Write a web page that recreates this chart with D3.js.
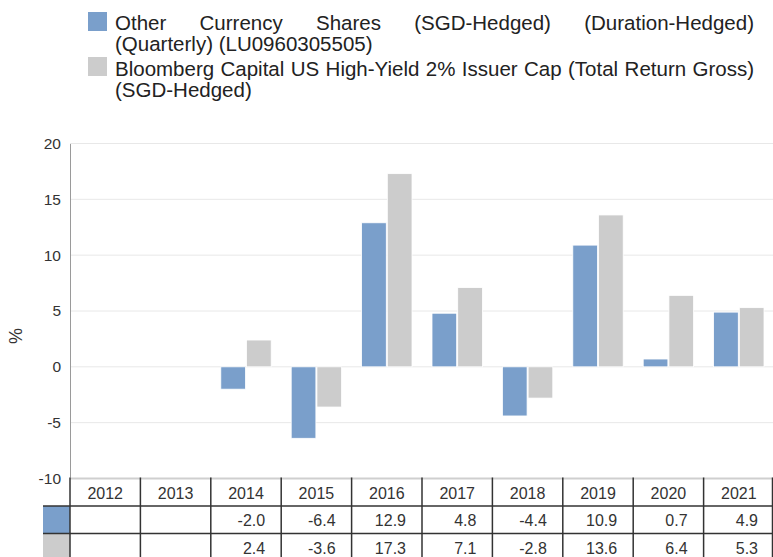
<!DOCTYPE html>
<html><head><meta charset="utf-8">
<script src="https://cdn.jsdelivr.net/npm/d3@7"></script>
<style>body{margin:0;background:#fff;}svg{display:block;font-family:"Liberation Sans",Arial,sans-serif;}</style>
</head><body><svg id="c" width="773" height="557"></svg>
<script>
const years = ["2012","2013","2014","2015","2016","2017","2018","2019","2020","2021"];
const fundValues = [null,null,-2.0,-6.4,12.9,4.8,-4.4,10.9,0.7,4.9];
const indexValues = [null,null,2.4,-3.6,17.3,7.1,-2.8,13.6,6.4,5.3];
const legendLines = [
  ["Other Currency Shares (SGD-Hedged) (Duration-Hedged)", "(Quarterly) (LU0960305505)"],
  ["Bloomberg Capital US High-Yield 2% Issuer Cap (Total Return Gross)", "(SGD-Hedged)"]
];
const yTicks = [-10,-5,0,5,10,15,20];
const colors = ["#7a9fcb","#cccccc"];

(function(){
const svg = d3.select("#c");
const pLeft = 70, pRight = 774, pTop = 143.5, pBottom = 478.5;
const x = d3.scaleBand().domain(years).range([pLeft,pRight]);
const bw = x.bandwidth();
const x1 = d3.scaleBand().domain([0,1]).range([10,bw-10]).paddingInner(0.04);
const y = d3.scaleLinear().domain([-10,20]).range([pBottom,pTop]);

svg.append("g").selectAll("line").data(yTicks).join("line")
  .attr("x1",pLeft).attr("x2",pRight).attr("y1",d=>y(d)).attr("y2",d=>y(d))
  .attr("stroke","#e8e8e8").attr("stroke-width",1);

const yAxis = d3.axisLeft(y).tickValues(yTicks).tickSize(0).tickPadding(9).tickFormat(d=>String(d));
const ga = svg.append("g").attr("transform",`translate(${pLeft},0)`).call(yAxis);
ga.select(".domain").attr("stroke","#9a9a9a");
ga.selectAll("text").attr("font-size",15.5).attr("fill","#333").attr("font-family","Liberation Sans, Arial, sans-serif");
svg.append("text").attr("transform","translate(22,336) rotate(-90)").attr("text-anchor","middle")
  .attr("font-size",18).attr("fill","#333").text("%");

const allSeries = [fundValues,indexValues];
allSeries.forEach((vals,si)=>{
  svg.append("g").selectAll("rect").data(years.map((yr,i)=>({yr,v:vals[i]})).filter(d=>d.v!==null)).join("rect")
    .attr("x",d=>x(d.yr)+x1(si)).attr("width",x1.bandwidth())
    .attr("y",d=>y(Math.max(0,d.v))).attr("height",d=>Math.abs(y(d.v)-y(0)))
    .attr("fill",colors[si]).attr("stroke","#fff").attr("stroke-width",0.8);
});

svg.append("line").attr("x1",pLeft).attr("x2",pRight).attr("y1",pBottom).attr("y2",pBottom).attr("stroke","#cfcfcf").attr("stroke-width",2);

const rowTop = [478.5,506,533.5], rowH = 27.5;
const tbl = svg.append("g");
colors.forEach((c,i)=>{
  tbl.append("rect").attr("x",43).attr("y",rowTop[i+1]).attr("width",pLeft-43).attr("height",rowH).attr("fill",c);
});
tbl.selectAll("text.h").data(years).join("text").attr("class","h")
  .attr("x",d=>x(d)+bw/2).attr("y",rowTop[0]+20).attr("text-anchor","middle")
  .attr("font-size",16).attr("fill","#333").text(d=>d);
allSeries.forEach((vals,si)=>{
  tbl.append("g").selectAll("text").data(years.map((yr,i)=>({yr,v:vals[i]})).filter(d=>d.v!==null)).join("text")
    .attr("x",d=>x(d.yr)+bw-16).attr("y",rowTop[si+1]+20).attr("text-anchor","end")
    .attr("font-size",16).attr("fill","#333").text(d=>d.v.toFixed(1));
});
const vLines = years.map(d=>x(d)).concat([772.5]);
tbl.selectAll("line.v").data(vLines).join("line").attr("class","v")
  .attr("x1",d=>d).attr("x2",d=>d).attr("y1",rowTop[0]-1).attr("y2",557)
  .attr("stroke","#333").attr("stroke-width",1.5);
[rowTop[1],rowTop[2]].forEach(yy=>{
  tbl.append("line").attr("x1",43).attr("x2",pRight).attr("y1",yy).attr("y2",yy).attr("stroke","#333").attr("stroke-width",1.5);
});

// legend
const lg = svg.append("g");
const textX = 115, textR = 754, fs = 20.5;
const baselines = [[30,51],[75.5,97]];
const swatchY = [12,57];
legendLines.forEach((ls,i)=>{
  lg.append("rect").attr("x",88).attr("y",swatchY[i]).attr("width",19).attr("height",19).attr("fill",colors[i]);
  ls.forEach((line,j)=>{
    if(j===0){
      const words = line.split(" ");
      const g = lg.append("g");
      const ts = words.map(w=>g.append("text").attr("y",baselines[i][j]).attr("font-size",fs).attr("fill","#222").text(w));
      const ws = ts.map(t=>t.node().getComputedTextLength());
      const total = d3.sum(ws);
      const gap = (textR-textX-total)/(words.length-1);
      let cx = textX;
      ts.forEach((t,k)=>{ t.attr("x",cx); cx += ws[k]+gap; });
    } else {
      lg.append("text").attr("x",textX).attr("y",baselines[i][j]).attr("font-size",fs).attr("fill","#222").text(line);
    }
  });
});
})();
</script></body></html>
